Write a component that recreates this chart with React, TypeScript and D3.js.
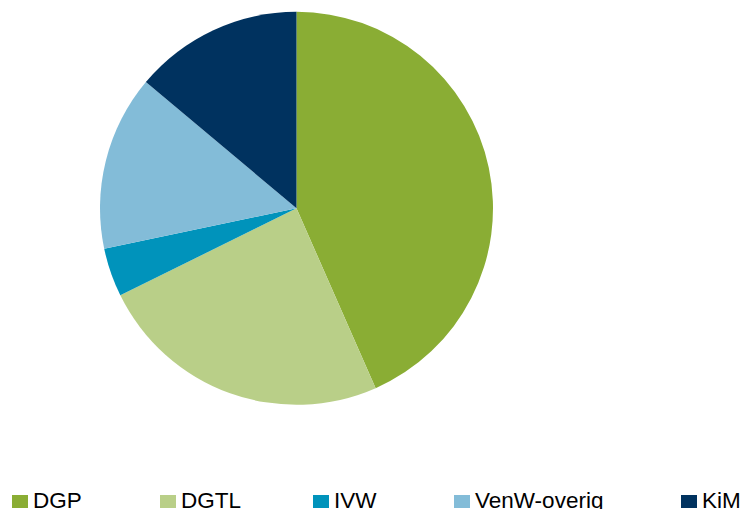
import { useEffect, useRef } from "react";
import * as d3 from "d3";

const categories = ["DGP", "DGTL", "IVW", "VenW-overig", "KiM"];
const values = [43.4, 24.3, 4.0, 14.4, 13.9];
const colors = ["#8aad34", "#b9cf88", "#0093bb", "#83bcd8", "#00325f"];
const legendX = [12, 160, 313, 454, 681];

export default function App() {
  const ref = useRef<SVGSVGElement>(null);

  useEffect(() => {
    if (!ref.current) return;
    const svg = d3.select(ref.current);
    svg.selectAll("*").remove();

    const cx = 296.5;
    const cy = 208.3;
    const r = 196.5;

    const pie = d3.pie<number>().sort(null).value((d) => d);
    const arc = d3.arc<d3.PieArcDatum<number>>().innerRadius(0).outerRadius(r);

    // slices
    svg
      .append("g")
      .attr("transform", `translate(${cx},${cy})`)
      .selectAll("path")
      .data(pie(values))
      .join("path")
      .attr("d", arc)
      .attr("fill", (_, i) => colors[i]);

    // legend
    const leg = svg
      .append("g")
      .selectAll("g")
      .data(categories)
      .join("g")
      .attr("transform", (_, i) => `translate(${legendX[i]},0)`);

    leg
      .append("rect")
      .attr("x", 0)
      .attr("y", 495)
      .attr("width", 16)
      .attr("height", 13)
      .attr("fill", (_, i) => colors[i]);

    leg
      .append("text")
      .attr("x", 21)
      .attr("y", 508)
      .attr("font-family", "Liberation Sans, Arial, sans-serif")
      .attr("font-size", 22.5)
      .attr("fill", "#000")
      .text((d) => d);
  }, []);

  return (
    <svg
      ref={ref}
      width={746}
      height={509}
      style={{ position: "absolute", left: 0, top: 0, background: "#fff" }}
    />
  );
}
